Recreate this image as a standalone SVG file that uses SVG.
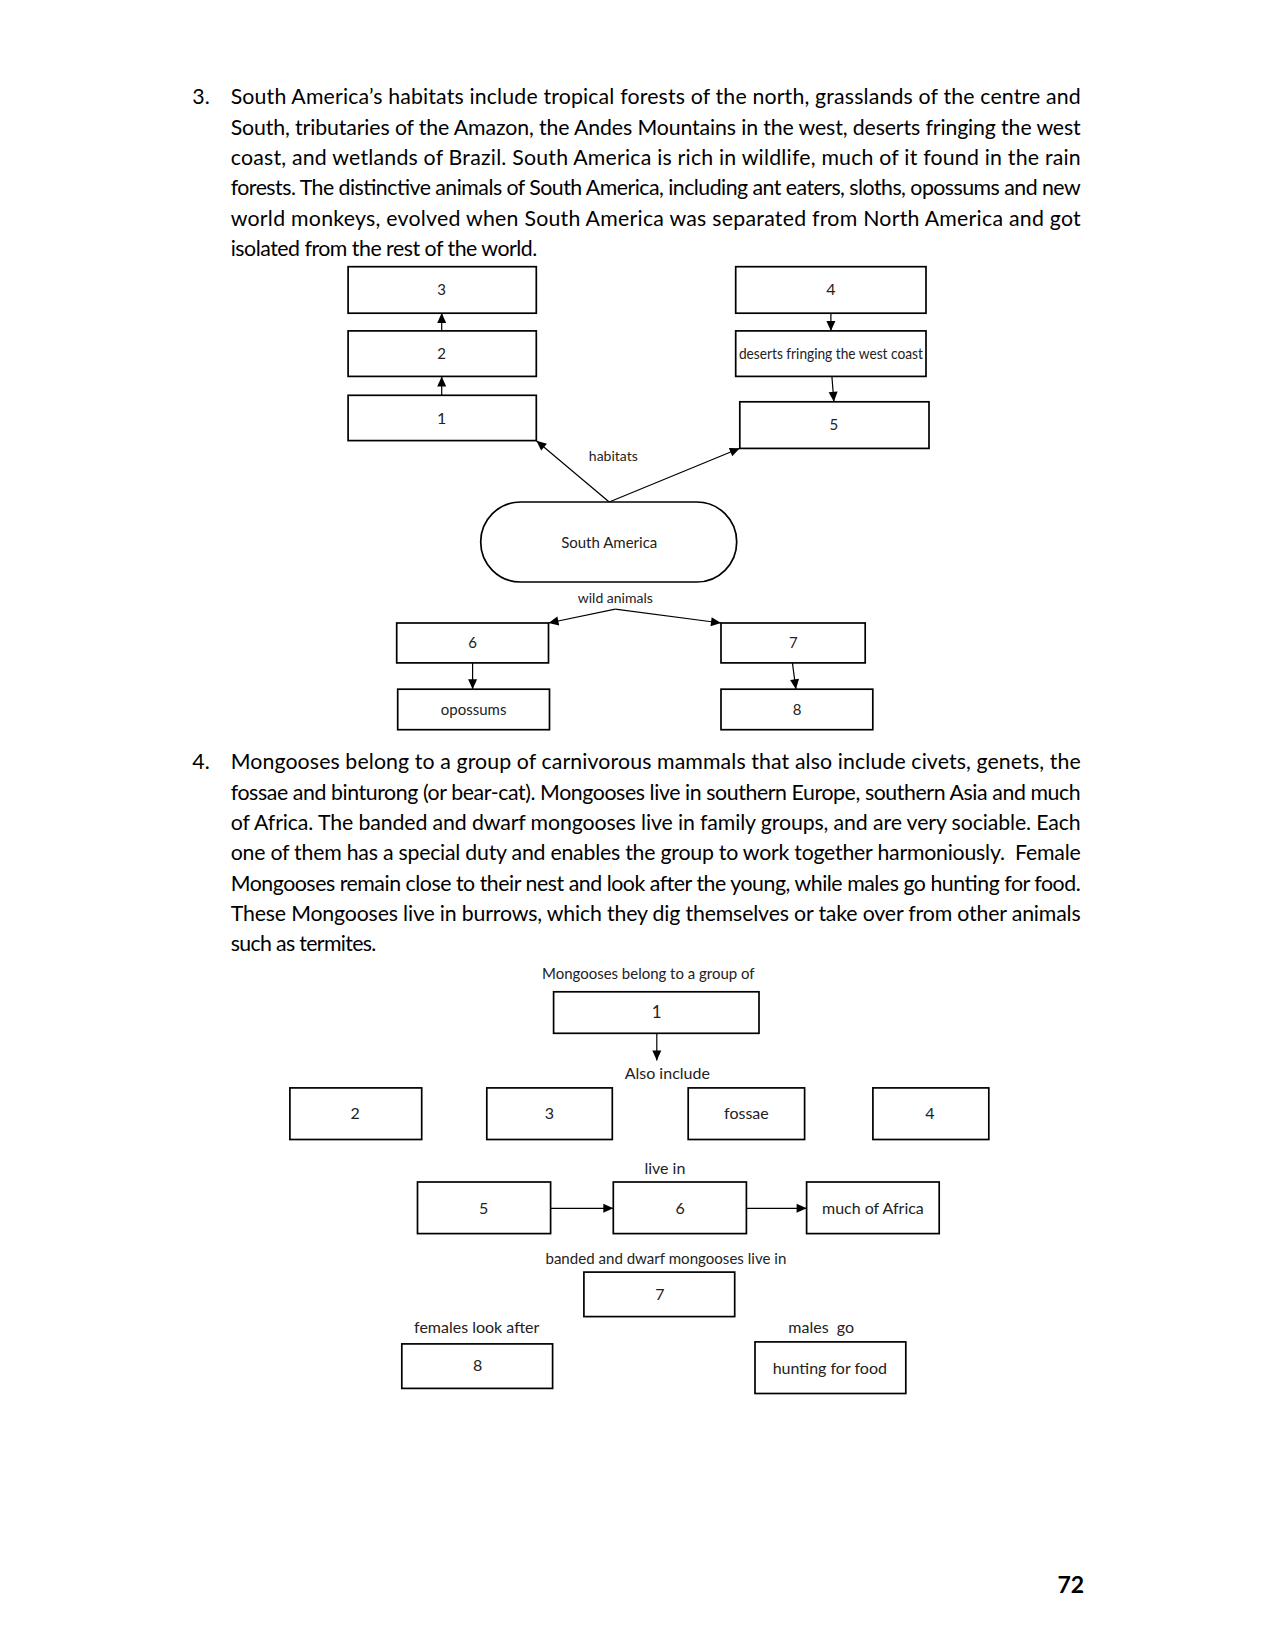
<svg xmlns="http://www.w3.org/2000/svg" width="1275" height="1651" viewBox="0 0 1275 1651">
<style>
.p{font-family:Lato,'Liberation Sans',sans-serif;font-size:21.3px;fill:#000}
.l{font-family:Lato,'Liberation Sans',sans-serif;font-size:15px;fill:#222;text-anchor:middle}
.m{font-family:Lato,'Liberation Sans',sans-serif;font-size:16px;fill:#222;text-anchor:middle}
.b{fill:#fff;stroke:#000;stroke-width:1.7}
.c{stroke:#000;stroke-width:1.2;fill:none;marker-end:url(#ah)}
.pn{font-family:Lato,'Liberation Sans',sans-serif;font-size:23px;font-weight:bold;fill:#000}
</style>
<defs>
<marker id="ah" viewBox="0 0 10 10" refX="10" refY="5" markerWidth="13" markerHeight="10" markerUnits="userSpaceOnUse" orient="auto"><path d="M0,0.5 L10,5 L0,9.5 z" fill="#000"/></marker>
</defs>
<rect width="1275" height="1651" fill="#fff"/>

<g id="para3">
<text class="p" x="192.3" y="104.2">3.</text>
<text class="p" x="230.7" y="104.2" textLength="850" lengthAdjust="spacing">South America’s habitats include tropical forests of the north, grasslands of the centre and</text>
<text class="p" x="230.7" y="134.6" textLength="850" lengthAdjust="spacing">South, tributaries of the Amazon, the Andes Mountains in the west, deserts fringing the west</text>
<text class="p" x="230.7" y="165" textLength="850" lengthAdjust="spacing">coast, and wetlands of Brazil. South America is rich in wildlife, much of it found in the rain</text>
<text class="p" x="230.7" y="195.3" textLength="850" lengthAdjust="spacing">forests. The distinctive animals of South America, including ant eaters, sloths, opossums and new</text>
<text class="p" x="230.7" y="225.7" textLength="850" lengthAdjust="spacing">world monkeys, evolved when South America was separated from North America and got</text>
<text class="p" x="230.7" y="256" textLength="306.6" lengthAdjust="spacing">isolated from the rest of the world.</text>
</g>

<g id="connectors1">
<line class="c" x1="441.7" y1="395.3" x2="441.7" y2="376.5"/>
<line class="c" x1="441.7" y1="330.9" x2="441.7" y2="313.1"/>
<line class="c" x1="830.9" y1="313.1" x2="830.9" y2="330.9"/>
<line class="c" x1="831.9" y1="376.5" x2="833.9" y2="401.8"/>
<line class="c" x1="609.2" y1="502" x2="536.4" y2="440.7"/>
<line class="c" x1="609.2" y1="502" x2="739.8" y2="448.3"/>
<line class="c" x1="615.3" y1="609.2" x2="548.5" y2="623"/>
<line class="c" x1="615.3" y1="609.2" x2="721" y2="623"/>
<line class="c" x1="472.6" y1="662.9" x2="472.6" y2="689.2"/>
<line class="c" x1="792.4" y1="662.9" x2="795.9" y2="689.2"/>
</g>

<g id="d1-box3"><rect class="b" x="348.1" y="266.7" width="188.2" height="46.5"/><text class="l" x="441.7" y="295">3</text></g>
<g id="d1-box2"><rect class="b" x="348.1" y="330.9" width="188.2" height="45.5"/><text class="l" x="441.7" y="359.3">2</text></g>
<g id="d1-box1"><rect class="b" x="348.1" y="395.3" width="188.2" height="45.3" stroke-width="2.2"/><text class="l" x="441.7" y="423.5" style="font-size:16px">1</text></g>
<g id="d1-box4"><rect class="b" x="735.7" y="266.7" width="190.3" height="46.5" stroke-width="2.2"/><text class="l" x="830.9" y="295" style="font-size:16px">4</text></g>
<g id="d1-desert"><rect class="b" x="735.7" y="330.9" width="190.3" height="45.5" stroke-width="2.2"/><text class="l" x="830.9" y="359.3" textLength="184" lengthAdjust="spacingAndGlyphs">deserts fringing the west coast</text></g>
<g id="d1-box5"><rect class="b" x="739.8" y="401.8" width="189.2" height="46.6" stroke-width="1.3"/><text class="l" x="833.9" y="430.1">5</text></g>
<g id="d1-sa"><rect class="b" x="480.7" y="502" width="256" height="80" rx="40" ry="40" stroke-width="1.4"/><text class="l" x="609.2" y="547.5">South America</text></g>
<text class="l" x="613.3" y="460.5" style="font-size:14px">habitats</text>
<text class="l" x="615.3" y="603.2" style="font-size:14px">wild animals</text>
<g id="d1-box6"><rect class="b" x="396.7" y="623" width="151.8" height="39.9" stroke-width="2.2"/><text class="l" x="472.6" y="647.7">6</text></g>
<g id="d1-opossums"><rect class="b" x="397.7" y="689.2" width="151.8" height="40.5" stroke-width="2"/><text class="l" x="473.6" y="714.5">opossums</text></g>
<g id="d1-box7"><rect class="b" x="721" y="623" width="144.2" height="39.9" stroke-width="1.3"/><text class="l" x="793.4" y="647.7">7</text></g>
<g id="d1-box8"><rect class="b" x="721" y="689.2" width="151.8" height="40.5" stroke-width="2.2"/><text class="l" x="797" y="714.5">8</text></g>

<g id="para4">
<text class="p" x="192.3" y="769">4.</text>
<text class="p" x="230.7" y="769" textLength="850" lengthAdjust="spacing">Mongooses belong to a group of carnivorous mammals that also include civets, genets, the</text>
<text class="p" x="230.7" y="799.5" textLength="850" lengthAdjust="spacing">fossae and binturong (or bear-cat). Mongooses live in southern Europe, southern Asia and much</text>
<text class="p" x="230.7" y="829.8" textLength="850" lengthAdjust="spacing">of Africa. The banded and dwarf mongooses live in family groups, and are very sociable. Each</text>
<text class="p" x="230.7" y="860.2" textLength="850" lengthAdjust="spacing" style="white-space:pre">one of them has a special duty and enables the group to work together harmoniously.  Female</text>
<text class="p" x="230.7" y="890.6" textLength="850" lengthAdjust="spacing">Mongooses remain close to their nest and look after the young, while males go hunting for food.</text>
<text class="p" x="230.7" y="921" textLength="850" lengthAdjust="spacing">These Mongooses live in burrows, which they dig themselves or take over from other animals</text>
<text class="p" x="230.7" y="951.3" textLength="145.7" lengthAdjust="spacing">such as termites.</text>
</g>

<g id="connectors2">
<line class="c" x1="656.8" y1="1033.3" x2="656.8" y2="1060.6"/>
<line class="c" x1="550.5" y1="1208.3" x2="613.3" y2="1208.3"/>
<line class="c" x1="746.3" y1="1208.3" x2="806.6" y2="1208.3"/>
</g>

<text class="m" x="648.3" y="978.6" textLength="212.5" lengthAdjust="spacingAndGlyphs">Mongooses belong to a group of</text>
<g id="d2-box1"><rect class="b" x="553.6" y="991.8" width="205.4" height="41.5" stroke-width="2"/><text class="m" x="656.8" y="1018.1" style="font-size:17px">1</text></g>
<text class="m" x="667.3" y="1078.8">Also include</text>
<g id="d2-box2"><rect class="b" x="289.9" y="1087.9" width="131.8" height="51.6" stroke-width="1.3"/><text class="m" x="355.2" y="1119.3">2</text></g>
<g id="d2-box3"><rect class="b" x="486.8" y="1087.9" width="125.5" height="51.6" stroke-width="2"/><text class="m" x="549.5" y="1119.3">3</text></g>
<g id="d2-fossae"><rect class="b" x="688.2" y="1087.9" width="116.4" height="51.6" stroke-width="1.5"/><text class="m" x="746.4" y="1119.3">fossae</text></g>
<g id="d2-box4"><rect class="b" x="872.9" y="1087.9" width="115.9" height="51.6" stroke-width="1.3"/><text class="m" x="930" y="1119.3">4</text></g>
<text class="m" x="664.9" y="1173.9">live in</text>
<g id="d2-box5"><rect class="b" x="417.5" y="1182" width="133.1" height="51.6" stroke-width="2"/><text class="m" x="483.7" y="1214.4">5</text></g>
<g id="d2-box6"><rect class="b" x="613.3" y="1182" width="133.1" height="51.6" stroke-width="2"/><text class="m" x="680.1" y="1214.4">6</text></g>
<g id="d2-africa"><rect class="b" x="806.6" y="1182" width="132.6" height="51.6" stroke-width="2.2"/><text class="m" x="872.9" y="1214.4">much of Africa</text></g>
<text class="m" x="665.9" y="1264" textLength="240.9" lengthAdjust="spacingAndGlyphs">banded and dwarf mongooses live in</text>
<g id="d2-box7"><rect class="b" x="583.9" y="1272.1" width="150.8" height="44.5" stroke-width="2.2"/><text class="m" x="659.8" y="1300.4">7</text></g>
<text class="m" x="476.7" y="1332.8">females look after</text>
<g id="d2-box8"><rect class="b" x="401.8" y="1343.9" width="150.8" height="44.5" stroke-width="2"/><text class="m" x="477.7" y="1371.3">8</text></g>
<text class="m" x="821.2" y="1332.8" style="white-space:pre">males  go</text>
<g id="d2-hunting"><rect class="b" x="755" y="1341.9" width="150.8" height="51.6" stroke-width="1.6"/><text class="m" x="829.8" y="1374.3">hunting for food</text></g>

<text class="pn" x="1057.5" y="1593">72</text>
</svg>
